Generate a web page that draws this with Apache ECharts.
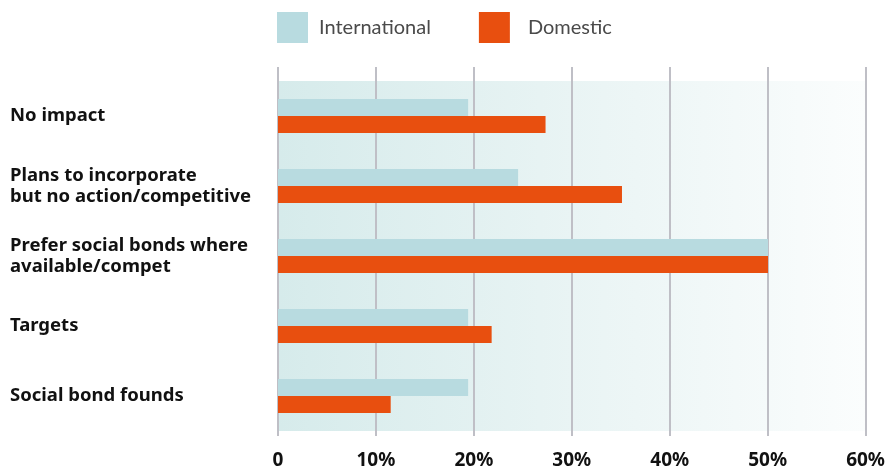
<!DOCTYPE html>
<html>
<head>
<meta charset="utf-8">
<script src="https://cdn.jsdelivr.net/npm/echarts@6/dist/echarts.min.js"></script>
<style>
  html, body { margin: 0; padding: 0; background: #fff; }
  #chart { width: 888px; height: 470px; }
</style>
</head>
<body>
<div id="chart"></div>
<script>
// Survey answers, top to bottom
const categories = [
  'No impact',
  'Plans to incorporate\nbut no action/competitive',
  'Prefer social bonds where\navailable/compet',
  'Targets',
  'Social bond founds'
];
// Share of respondents (%)
const international = [19.4, 24.5, 50, 19.4, 19.4];
const domestic = [27.3, 35.1, 50, 21.8, 11.5];
const seriesNames = ['International', 'Domestic'];
const xTicks = [0, 10, 20, 30, 40, 50, 60];

const chart = echarts.init(document.getElementById('chart'), null, { renderer: 'canvas' });

const gridColor = '#bfbfc6';
const boldFont = '"Noto Sans", "Open Sans", sans-serif';
const legendFont = 'Lato, "Noto Sans", sans-serif';

chart.setOption({
  animation: false,
  legend: {
    left: 277,
    top: 12,
    padding: 0,
    itemWidth: 31,
    itemHeight: 31,
    itemGap: 48,
    icon: 'rect',
    data: [
      { name: seriesNames[0] },
      { name: seriesNames[1], textStyle: { padding: [4, 0, 0, 13] } }
    ],
    textStyle: {
      fontFamily: legendFont,
      fontSize: 20,
      fontWeight: 'normal',
      color: '#4a4a4a',
      padding: [4, 0, 0, 6]
    }
  },
  grid: [
    {
      // bars + shaded band
      left: 278, right: 22, top: 81, height: 350,
      show: true,
      borderWidth: 0,
      backgroundColor: {
        type: 'linear', x: 0, y: 0, x2: 1, y2: 0,
        colorStops: [
          { offset: 0, color: '#d6ebeb' },
          { offset: 0.5, color: '#e9f4f4' },
          { offset: 1, color: '#fbfdfd' }
        ]
      }
    },
    {
      // vertical gridlines + tick labels
      left: 278, right: 22, top: 67, bottom: 25
    }
  ],
  xAxis: [
    {
      gridIndex: 0, type: 'value', min: xTicks[0], max: xTicks[xTicks.length - 1],
      interval: 10, show: false
    },
    {
      gridIndex: 1, type: 'value', min: xTicks[0], max: xTicks[xTicks.length - 1],
      interval: 10, z: 1,
      axisLine: { show: false },
      axisTick: { show: false },
      splitLine: { show: true, lineStyle: { color: gridColor, width: 2 } },
      axisLabel: {
        margin: 15,
        fontFamily: boldFont,
        fontSize: 19,
        fontWeight: 'bold',
        color: '#111',
        formatter: v => (v === 0 ? '0' : v + '%')
      }
    }
  ],
  yAxis: [
    {
      gridIndex: 0, type: 'category', data: categories, inverse: true,
      axisLine: { show: false },
      axisTick: { show: false },
      splitLine: { show: false },
      axisLabel: {
        align: 'left',
        margin: 268,
        fontFamily: boldFont,
        fontSize: 18.5,
        fontWeight: 'bold',
        lineHeight: 21,
        color: '#111'
      }
    },
    { gridIndex: 1, type: 'category', data: categories, show: false }
  ],
  series: [
    {
      name: seriesNames[0], type: 'bar', xAxisIndex: 0, yAxisIndex: 0,
      data: international, barWidth: 17, barGap: '0%',
      itemStyle: { color: '#b8dbe0' }, z: 3
    },
    {
      name: seriesNames[1], type: 'bar', xAxisIndex: 0, yAxisIndex: 0,
      data: domestic, barWidth: 17, barGap: '0%',
      itemStyle: { color: '#e84f0f' }, z: 3
    }
  ]
});
</script>
</body>
</html>
